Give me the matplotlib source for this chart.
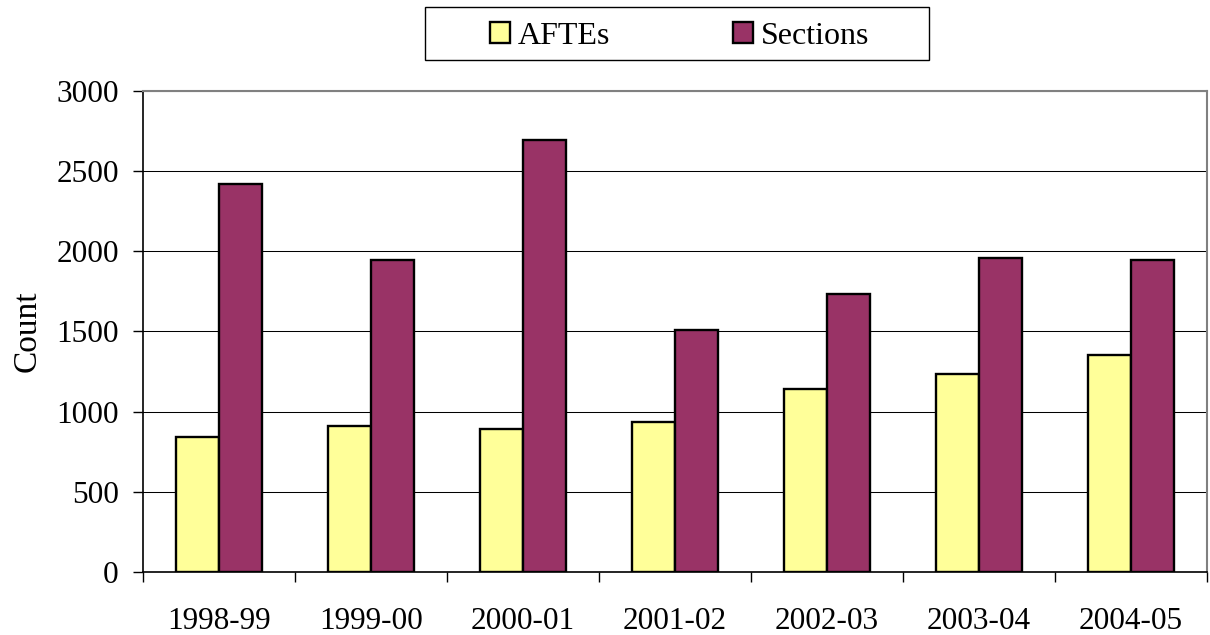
import numpy as np
import matplotlib
matplotlib.use('Agg')
import matplotlib.pyplot as plt
from matplotlib.patches import Rectangle

plt.rcParams['font.family'] = ['Liberation Serif', 'DejaVu Serif']

# Dados
anos = ['1998-99', '1999-00', '2000-01', '2001-02', '2002-03', '2003-04', '2004-05']
aftes = [840, 911, 890, 938, 1141, 1233, 1353]
sections = [2420, 1943, 2692, 1509, 1731, 1955, 1945]

cor_aftes = '#FFFF99'
cor_sections = '#993366'
tam = 22.5

fig = plt.figure(figsize=(12.1, 6.35), dpi=100)
ax = fig.add_axes([143 / 1210, 1 - 572.3 / 635, (1207 - 143) / 1210, (572.3 - 90.5) / 635])

x = np.arange(len(anos))
larg = 1 / 3.5
ax.bar(x - larg / 2, aftes, larg, color=cor_aftes, edgecolor='black', linewidth=1.7, label='AFTEs', zorder=3)
ax.bar(x + larg / 2, sections, larg, color=cor_sections, edgecolor='black', linewidth=1.7, label='Sections', zorder=3)

ax.set_xlim(-0.5, len(anos) - 0.5)
ax.set_ylim(0, 3000)
ax.set_yticks(range(0, 3001, 500))
ax.yaxis.grid(True, color='black', linewidth=0.75, zorder=0)

# ticks nos limites das categorias, rotulos no centro
ax.set_xticks(np.arange(-0.5, len(anos)), labels=[''] * (len(anos) + 1))
ax.set_xticks(x, labels=anos, minor=True)
ax.tick_params(axis='x', which='major', direction='out', length=7.5, width=1, color='black')
ax.tick_params(axis='x', which='minor', length=0, pad=25, labelsize=tam)
ax.tick_params(axis='y', direction='out', length=7.5, width=1, pad=10, labelsize=tam)

for lado in ['top', 'right']:
    ax.spines[lado].set_color('#808080')
    ax.spines[lado].set_linewidth(1.5)
ax.spines['left'].set_linewidth(1.2)
ax.spines['bottom'].set_linewidth(1.2)

ax.set_ylabel('Count', fontsize=tam + 1.5, labelpad=10)

# legenda
fig.patches.append(Rectangle((425 / 1210, 1 - 60 / 635), 504 / 1210, 53 / 635,
                             transform=fig.transFigure, fill=False, edgecolor='black', linewidth=1))
fig.legend(loc='center left', bbox_to_anchor=(490 / 1210, 1 - 36 / 635), ncol=2, frameon=False,
           fontsize=tam + 0.5, handlelength=0.62, handleheight=0.62, handletextpad=0.25,
           columnspacing=3.85, borderpad=0, borderaxespad=0)

fig.savefig('out.png', dpi=100)
